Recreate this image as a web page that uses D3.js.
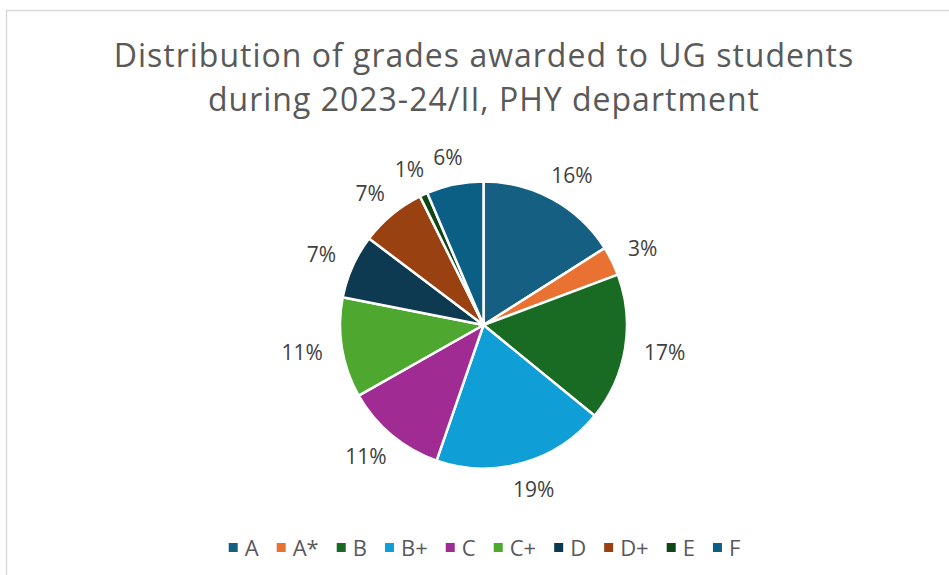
<!doctype html>
<html>
<head>
    <meta charset="utf-8">
    <title>Grades pie</title>
    <script src="https://d3js.org/d3.v7.min.js"></script>
    <style type="text/css">
        html, body { margin: 0; background: #fff; }
        svg text { font-family: "Open Sans", "Liberation Sans", Arial, sans-serif; }
    </style>
</head>
<body>
    <svg id="chart" width="949" height="575"></svg>

    <script type="text/javascript">
        // grade categories and their share (%)
        var grades = ["A", "A*", "B", "B+", "C", "C+", "D", "D+", "E", "F"];
        var shares = [16.0, 3.3, 16.6, 19.4, 11.5, 11.3, 7.2, 7.4, 0.9, 6.4];
        var colors = ["#156082", "#E97132", "#196B24", "#0F9ED5", "#A02B93",
                      "#4EA72E", "#0D3A50", "#994111", "#0F4517", "#0B5F84"];
        var titleLines = ["Distribution of grades awarded to UG students",
                          "during 2023-24/II, PHY department"];

        var svg = d3.select("#chart");

        // chart frame, runs off the right and bottom edge like the screenshot
        svg.append("rect")
            .attr("x", 6.5).attr("y", 10.5)
            .attr("width", 960).attr("height", 600)
            .attr("fill", "#fff")
            .attr("stroke", "#d9d9d9")
            .attr("stroke-width", 1.5);

        svg.selectAll(".title")
            .data(titleLines)
            .enter().append("text")
            .attr("class", "title")
            .attr("x", 484)
            .attr("y", function(d, i) { return 67 + i * 44; })
            .attr("text-anchor", "middle")
            .attr("fill", "#595959")
            .style("font-size", "32px")
            .style("letter-spacing", "1px")
            .text(function(d) { return d; });

        var cx = 483.5, cy = 325, r = 143.5;
        var total = d3.sum(shares);
        var data = grades.map(function(g, i) { return {grade: g, value: shares[i], color: colors[i]}; });

        var pie = d3.pie().sort(null).value(function(d) { return d.value; });
        var arc = d3.arc().innerRadius(0).outerRadius(r);
        var arcs = pie(data);

        var g = svg.append("g").attr("transform", "translate(" + cx + "," + cy + ")");

        g.selectAll("path")
            .data(arcs)
            .enter().append("path")
            .attr("d", arc)
            .attr("fill", function(d) { return d.data.color; })
            .attr("stroke", "#fff")
            .attr("stroke-width", 2.5)
            .attr("stroke-linejoin", "round");

        // outside-end labels: the box edge nearest the pie sits on the mid-angle ray
        var labelR = 163, boxH = 16;
        g.selectAll(".lbl")
            .data(arcs)
            .enter().append("text")
            .attr("class", "lbl")
            .attr("dy", "0.35em")
            .attr("text-anchor", "middle")
            .attr("fill", "#404040")
            .style("font-size", "21px")
            .text(function(d) { return Math.round(d.data.value / total * 100) + "%"; })
            .each(function(d) {
                var a = (d.startAngle + d.endAngle) / 2;
                var ux = Math.sin(a), uy = -Math.cos(a);
                var w = this.getComputedTextLength();
                d3.select(this)
                    .attr("x", labelR * ux + w / 2 * ux)
                    .attr("y", labelR * uy + boxH / 2 * uy);
            });

        // legend row, centred under the pie
        var legend = svg.append("g");
        var items = legend.selectAll(".item")
            .data(data)
            .enter().append("g")
            .attr("class", "item");
        items.append("rect")
            .attr("width", 9).attr("height", 9)
            .attr("y", -5)
            .attr("fill", function(d) { return d.color; });
        items.append("text")
            .attr("x", 16)
            .attr("dy", "0.35em")
            .attr("fill", "#595959")
            .style("font-size", "22px")
            .text(function(d) { return d.grade; });

        var xpos = 0;
        items.each(function() {
            var w = this.getBBox().width;
            d3.select(this).attr("transform", "translate(" + xpos + ",0)");
            xpos += w + 18;
        });
        var legendW = xpos - 18;
        legend.attr("transform", "translate(" + (484.5 - legendW / 2) + ",548)");
    </script>
</body>
</html>
